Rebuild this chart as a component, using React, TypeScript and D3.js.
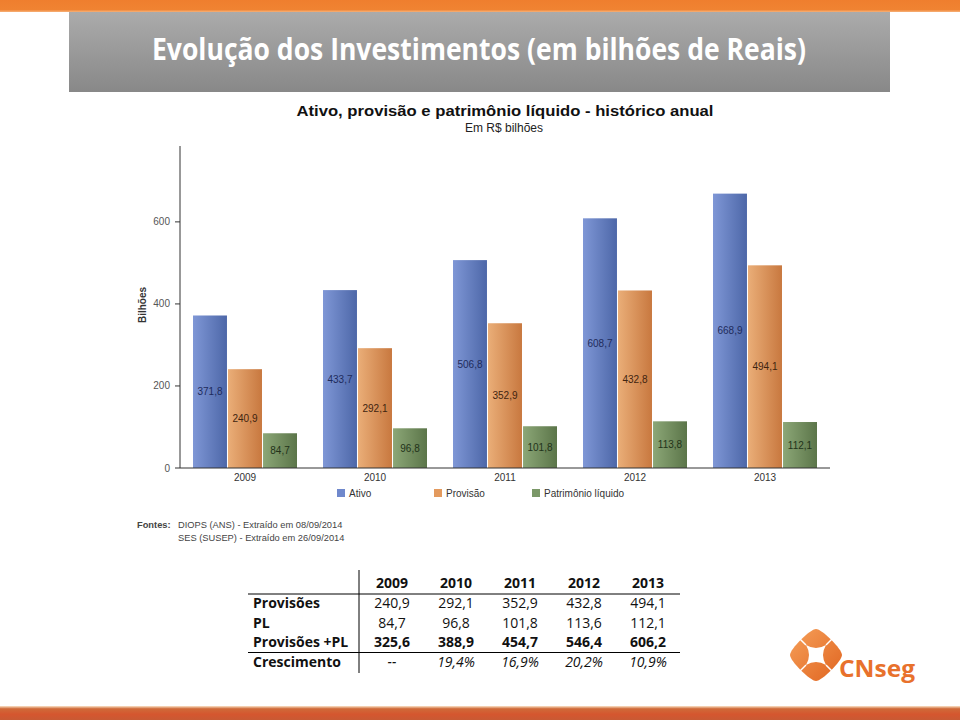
import React from "react";
import * as d3 from "d3";

const years = ["2009", "2010", "2011", "2012", "2013"];
const seriesNames = ["Ativo", "Provisão", "Patrimônio líquido"];
const ativo = [371.8, 433.7, 506.8, 608.7, 668.9];
const provisao = [240.9, 292.1, 352.9, 432.8, 494.1];
const patrimonio = [84.7, 96.8, 101.8, 113.8, 112.1];
const yTicks = [0, 200, 400, 600];

const tableYears = ["2009", "2010", "2011", "2012", "2013"];
const rowLabels = ["Provisões", "PL", "Provisões +PL", "Crescimento"];
const rowProvisoes = ["240,9", "292,1", "352,9", "432,8", "494,1"];
const rowPL = ["84,7", "96,8", "101,8", "113,6", "112,1"];
const rowSoma = ["325,6", "388,9", "454,7", "546,4", "606,2"];
const rowCresc = ["--", "19,4%", "16,9%", "20,2%", "10,9%"];

const fmt = (v: number) => v.toFixed(1).replace(".", ",");

export default function App() {
  const x0 = d3.scaleBand<string>().domain(years).range([180, 830]).paddingInner(0.2).paddingOuter(0.1);
  const x1 = d3.scaleBand<string>().domain(seriesNames).range([0, x0.bandwidth()]).paddingInner(0.03);
  const y = d3.scaleLinear().domain([0, 785]).range([468, 146]);
  const series = [ativo, provisao, patrimonio];
  const gradIds = ["gA", "gP", "gL"];
  const labelColors = ["#1e2b5c", "#3f2410", "#22331a"];
  const legendColors = ["#6f88cc", "#e39a5e", "#7b9868"];
  const legendX = [337, 434, 532];

  const colX = d3.scalePoint<string>().domain(tableYears).range([392, 648]);
  const rowY = d3.scalePoint<string>().domain(rowLabels).range([608, 667]);
  const tableRows = [rowProvisoes, rowPL, rowSoma, rowCresc];
  const tFont = "'Open Sans', 'Noto Sans', sans-serif";

  return (
    <svg width={960} height={720} style={{ position: "absolute", left: 0, top: 0, background: "#fff" }} fontFamily="Arial, 'Liberation Sans', sans-serif">
      <defs>
        <linearGradient id="gA" x1="0" x2="1" y1="0" y2="0">
          <stop offset="0" stopColor="#7f97d6" />
          <stop offset="1" stopColor="#4d67a8" />
        </linearGradient>
        <linearGradient id="gP" x1="0" x2="1" y1="0" y2="0">
          <stop offset="0" stopColor="#eaae78" />
          <stop offset="1" stopColor="#c8783f" />
        </linearGradient>
        <linearGradient id="gL" x1="0" x2="1" y1="0" y2="0">
          <stop offset="0" stopColor="#8ca777" />
          <stop offset="1" stopColor="#5b7549" />
        </linearGradient>
        <linearGradient id="gTitle" x1="0" x2="0" y1="0" y2="1">
          <stop offset="0" stopColor="#ababab" />
          <stop offset="1" stopColor="#888888" />
        </linearGradient>
        <linearGradient id="gTop" x1="0" x2="0" y1="0" y2="1">
          <stop offset="0" stopColor="#ef7e2e" />
          <stop offset="0.8" stopColor="#f08332" />
          <stop offset="1" stopColor="#f6b27a" />
        </linearGradient>
        <linearGradient id="gBot" x1="0" x2="0" y1="0" y2="1">
          <stop offset="0" stopColor="#fbe3c8" />
          <stop offset="0.2" stopColor="#cf6a38" />
          <stop offset="0.6" stopColor="#d5562f" />
          <stop offset="1" stopColor="#c85a34" />
        </linearGradient>
        <linearGradient id="gLogo" x1="0" x2="1" y1="0" y2="1">
          <stop offset="0" stopColor="#f6a05a" />
          <stop offset="1" stopColor="#e0641f" />
        </linearGradient>
      </defs>

      {/* top stripe */}
      <rect x={0} y={0} width={960} height={12} fill="url(#gTop)" />
      {/* title box */}
      <rect x={69} y={12} width={821} height={80} fill="url(#gTitle)" />
      <text x={479} y={60} textAnchor="middle" fill="#fff" fontSize={30} fontWeight="bold" fontFamily="'Open Sans', sans-serif" textLength={654} lengthAdjust="spacingAndGlyphs">
        Evolução dos Investimentos (em bilhões de Reais)
      </text>

      {/* chart title */}
      <text x={505} y={116} textAnchor="middle" fontSize={15.5} fontWeight="bold" fill="#111" textLength={417} lengthAdjust="spacingAndGlyphs">
        Ativo, provisão e patrimônio líquido - histórico anual
      </text>
      <text x={504} y={132} textAnchor="middle" fontSize={12} fill="#222">
        Em R$ bilhões
      </text>

      {/* y axis */}
      <line x1={180} x2={180} y1={146} y2={468} stroke="#333" strokeWidth={1} />
      {yTicks.map((t) => (
        <g key={t}>
          <line x1={175} x2={180} y1={y(t)} y2={y(t)} stroke="#333" />
          <text x={170} y={y(t) + 3.5} textAnchor="end" fontSize={10} fill="#555">{t}</text>
        </g>
      ))}
      <text transform="translate(146,305) rotate(-90)" textAnchor="middle" fontSize={10} fontWeight="bold" fill="#333">Bilhões</text>

      {/* bars */}
      {years.map((yr, i) => (
        <g key={yr} transform={`translate(${x0(yr)},0)`}>
          {series.map((s, j) => {
            const bx = x1(seriesNames[j])!;
            const bw = x1.bandwidth();
            const top = y(s[i]);
            return (
              <g key={j}>
                <rect x={bx} y={top} width={bw} height={y(0) - top} fill={`url(#${gradIds[j]})`} />
                <text x={bx + bw / 2} y={(top + y(0)) / 2 + 3.5} textAnchor="middle" fontSize={10} fill={labelColors[j]}>
                  {fmt(s[i])}
                </text>
              </g>
            );
          })}
          <text x={x0.bandwidth() / 2} y={481} textAnchor="middle" fontSize={10} fill="#333">{yr}</text>
        </g>
      ))}
      <line x1={180} x2={830} y1={468} y2={468} stroke="#333" />

      {/* legend */}
      {seriesNames.map((n, j) => (
        <g key={n}>
          <rect x={legendX[j]} y={489} width={8} height={8} fill={legendColors[j]} />
          <text x={legendX[j] + 12} y={497} fontSize={10} fill="#333">{n}</text>
        </g>
      ))}

      {/* sources */}
      <text x={137} y={528} fontSize={9.3} fontWeight="bold" fill="#444">Fontes:</text>
      <text x={178} y={528} fontSize={9.3} fill="#444">DIOPS (ANS) -  Extraído em 08/09/2014</text>
      <text x={178} y={541} fontSize={9.3} fill="#444">SES (SUSEP) -  Extraído em 26/09/2014</text>

      {/* table */}
      <line x1={359} x2={359} y1={570} y2={673} stroke="#000" strokeWidth={1} />
      <line x1={248} x2={680} y1={594} y2={594} stroke="#000" strokeWidth={1} />
      <line x1={248} x2={680} y1={652.5} y2={652.5} stroke="#000" strokeWidth={1} />
      {tableYears.map((yr) => (
        <text key={yr} x={colX(yr)} y={588} textAnchor="middle" fontSize={14} fontWeight="bold" fontFamily={tFont} fill="#111">{yr}</text>
      ))}
      {rowLabels.map((r, ri) => (
        <g key={r}>
          <text x={253} y={rowY(r)} fontSize={14} fontWeight="bold" fontFamily={tFont} fill="#111">{r}</text>
          {tableRows[ri].map((v, ci) => (
            <text key={ci} x={colX(tableYears[ci])} y={rowY(r)} textAnchor="middle" fontSize={14} fontFamily={tFont}
              fontWeight={ri === 2 ? "bold" : "normal"} fontStyle={ri === 3 ? "italic" : "normal"} fill="#111">
              {v}
            </text>
          ))}
        </g>
      ))}

      {/* logo */}
      <g transform="translate(816,655)">
        <path d="M0,-26 C6,-26 26,-6 26,0 C26,6 6,26 0,26 C-6,26 -26,6 -26,0 C-26,-6 -6,-26 0,-26 Z" fill="url(#gLogo)" />
        <path d="M-10,-10 Q0,-4 10,-10 Q4,0 10,10 Q0,4 -10,10 Q-4,0 -10,-10 Z" fill="#fff" />
        <line x1={-10} y1={-10} x2={-19} y2={-19} stroke="#fff" strokeWidth={1.5} />
        <line x1={10} y1={10} x2={19} y2={19} stroke="#fff" strokeWidth={1.5} />
        <line x1={10} y1={-10} x2={19} y2={-19} stroke="#fff" strokeWidth={1.5} />
        <line x1={-10} y1={10} x2={-19} y2={19} stroke="#fff" strokeWidth={1.5} />
      </g>
      <text x={839} y={677} fontSize={23} fontWeight="bold" fill="#e8712c" fontFamily="'Open Sans', sans-serif" textLength={76} lengthAdjust="spacingAndGlyphs">CNseg</text>

      {/* bottom stripe */}
      <rect x={0} y={706} width={960} height={14} fill="url(#gBot)" />
    </svg>
  );
}
